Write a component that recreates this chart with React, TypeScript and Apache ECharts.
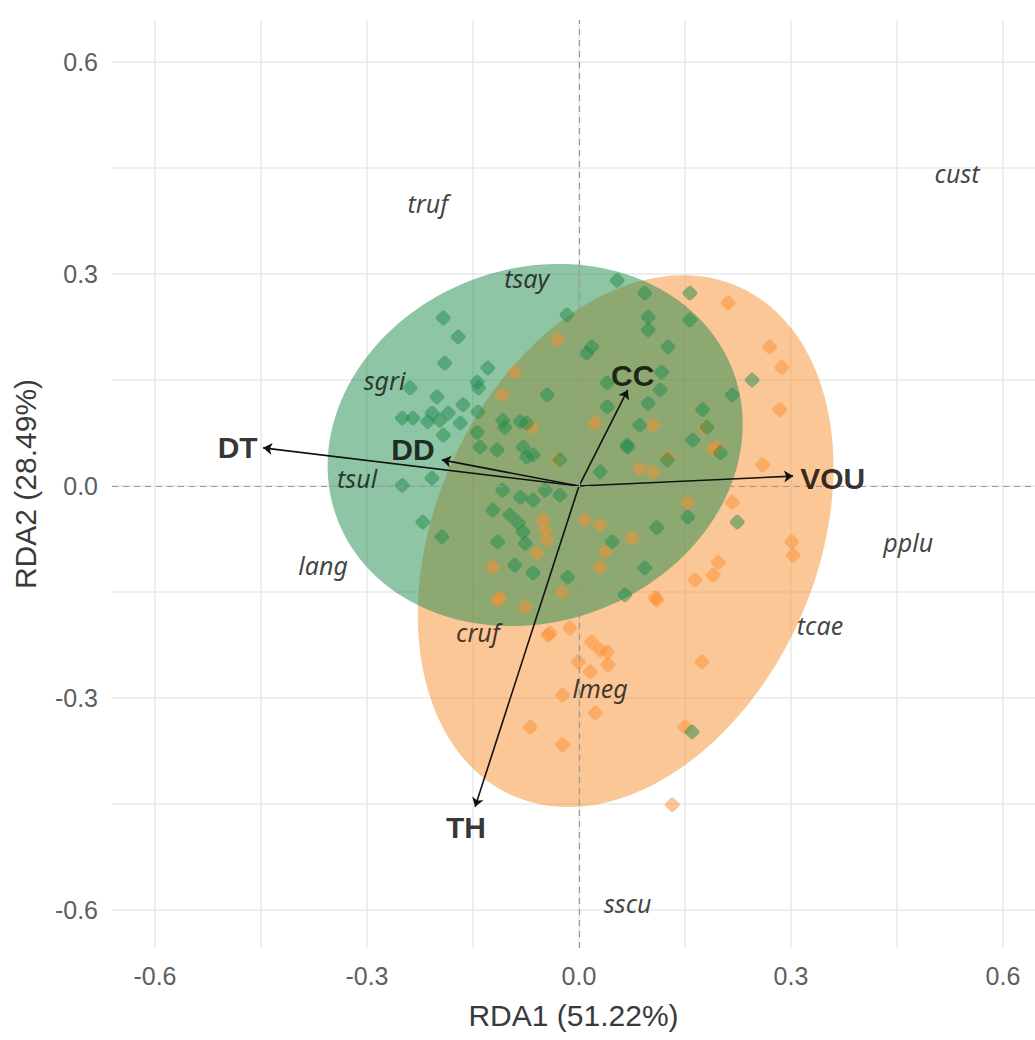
import React, { useEffect, useRef } from "react";
import * as echarts from "echarts";

// ---------- data ----------
const xTicks = [-0.6, -0.45, -0.3, -0.15, 0, 0.15, 0.3, 0.45, 0.6];
const yTicks = [-0.6, -0.45, -0.3, -0.15, 0, 0.15, 0.3, 0.45, 0.6];
const xLabels = [-0.6, -0.3, 0, 0.3, 0.6];
const yLabels = [-0.6, -0.3, 0, 0.3, 0.6];

// ellipses: [centerX, centerY, semiMajor, semiMinor, angleDeg]
const orangeEllipse = [0.066, -0.078, 0.394, 0.27, 66];
const greenEllipse = [-0.062, 0.058, 0.299, 0.25, 20];

const greenSites = [
  [-0.192, 0.238], [-0.171, 0.211], [-0.19, 0.174], [-0.129, 0.167], [-0.144, 0.147],
  [-0.142, 0.139], [-0.239, 0.139], [-0.201, 0.126], [-0.164, 0.115], [-0.208, 0.103],
  [-0.185, 0.103], [-0.25, 0.096], [-0.235, 0.096], [-0.214, 0.091], [-0.197, 0.093],
  [-0.168, 0.089], [-0.192, 0.072], [-0.143, 0.105], [-0.017, 0.242], [-0.045, 0.129],
  [-0.105, 0.083], [-0.074, 0.089], [-0.144, 0.076], [0.011, 0.188], [0.054, 0.291],
  [0.093, 0.273], [0.098, 0.239], [0.098, 0.221], [0.126, 0.197], [0.018, 0.197],
  [0.117, 0.161], [0.04, 0.146], [0.245, 0.15], [0.115, 0.136], [0.217, 0.129],
  [0.04, 0.112], [0.098, 0.117], [0.175, 0.108], [0.086, 0.086], [0.181, 0.083],
  [0.068, 0.058], [0.161, 0.065], [-0.25, 0.001], [-0.208, 0.011], [-0.14, 0.055],
  [-0.079, 0.055], [-0.074, 0.041], [-0.108, -0.006], [-0.083, -0.016], [-0.065, -0.02],
  [-0.048, -0.006], [-0.027, -0.013], [-0.122, -0.034], [-0.098, -0.041], [-0.086, -0.052],
  [-0.079, -0.065], [-0.221, -0.051], [-0.194, -0.072], [-0.115, -0.079], [-0.076, -0.081],
  [-0.091, -0.112], [-0.065, -0.123], [-0.016, -0.129], [0.069, 0.055], [0.03, 0.02],
  [0.154, -0.044], [0.11, -0.059], [0.047, -0.079], [0.093, -0.116], [0.065, -0.154],
  [0.16, -0.348], [0.224, -0.051], [0.157, 0.273], [0.157, 0.235], [0.125, 0.037],
  [-0.027, 0.037], [-0.108, 0.093], [-0.083, 0.091], [-0.065, 0.044], [0.2, 0.047],
  [-0.116, 0.051],
];

const orangeSites = [
  [-0.03, 0.207], [-0.091, 0.161], [-0.108, 0.129], [-0.067, 0.083], [0.211, 0.259],
  [0.27, 0.197], [0.287, 0.168], [0.284, 0.108], [0.023, 0.089], [0.105, 0.086],
  [0.195, 0.055], [-0.03, 0.037], [-0.051, -0.048], [-0.048, -0.062], [-0.045, -0.076],
  [-0.059, -0.095], [-0.122, -0.115], [-0.024, -0.15], [-0.115, -0.161], [-0.076, -0.171],
  [0.008, -0.048], [-0.041, -0.208], [-0.013, -0.201], [0.126, 0.04], [0.086, 0.025],
  [0.105, 0.02], [0.19, 0.051], [0.26, 0.03], [0.154, -0.023], [0.217, -0.023],
  [0.03, -0.055], [0.075, -0.074], [0.037, -0.093], [0.301, -0.079], [0.303, -0.098],
  [0.03, -0.115], [0.197, -0.108], [0.19, -0.126], [0.164, -0.133], [0.108, -0.158],
  [-0.044, -0.211], [0.018, -0.221], [0.03, -0.232], [0.04, -0.235], [-0.001, -0.249],
  [0.016, -0.263], [0.041, -0.253], [0.174, -0.249], [-0.023, -0.296], [0.023, -0.321],
  [-0.069, -0.341], [0.15, -0.341], [-0.023, -0.366], [0.132, -0.451], [0.11, -0.161],
  [-0.112, -0.158], [0.178, 0.082],
];

const envNames = ["DT", "DD", "CC", "VOU", "TH"];
const envArrowEnds = [
  [-0.447, 0.054], [-0.194, 0.037], [0.069, 0.136], [0.303, 0.014], [-0.147, -0.454],
];
const envLabelPos = [
  [-0.483, 0.055], [-0.235, 0.052], [0.076, 0.157], [0.359, 0.011], [-0.16, -0.483],
];

const speciesNames = ["truf", "tsay", "sgri", "tsul", "lang", "cruf", "lmeg", "tcae", "pplu", "sscu", "cust"];
const speciesPos = [
  [-0.214, 0.4], [-0.074, 0.294], [-0.275, 0.15], [-0.314, 0.011], [-0.362, -0.112],
  [-0.143, -0.207], [0.03, -0.286], [0.341, -0.197], [0.466, -0.079], [0.069, -0.59],
  [0.535, 0.443],
];

const GREEN = "rgb(30,140,75)";
const ORANGE = "rgb(250,143,48)";

function ellipseRender(fill: string, opacity: number) {
  return (params: any, api: any) => {
    const cx = api.value(0);
    const cy = api.value(1);
    const a = api.value(2);
    const b = api.value(3);
    const ang = (api.value(4) * Math.PI) / 180;
    const pts: number[][] = [];
    const n = 160;
    for (let i = 0; i < n; i++) {
      const t = (i / n) * Math.PI * 2;
      const ex = a * Math.cos(t);
      const ey = b * Math.sin(t);
      pts.push(
        api.coord([
          cx + ex * Math.cos(ang) - ey * Math.sin(ang),
          cy + ex * Math.sin(ang) + ey * Math.cos(ang),
        ])
      );
    }
    return {
      type: "polygon",
      shape: { points: pts },
      style: { fill, opacity },
    };
  };
}

export default function App() {
  const ref = useRef<HTMLDivElement>(null);
  useEffect(() => {
    if (!ref.current) return;
    const chart = echarts.init(ref.current, undefined, { renderer: "svg" });
    const xMin = -0.6608;
    const xMax = 0.6453;
    const yMax = 0.6594;
    const yMin = -0.6537;
    const fmt = (v: number) => (Math.abs(v) < 1e-9 ? "0.0" : v.toFixed(1));
    const option: any = {
      animation: false,
      backgroundColor: "#ffffff",
      grid: { left: 112, top: 20, width: 923, height: 928, containLabel: false },
      xAxis: {
        type: "value",
        min: xMin,
        max: xMax,
        name: "RDA1 (51.22%)",
        nameLocation: "middle",
        nameGap: 52,
        nameTextStyle: { fontFamily: "Liberation Sans, Arial", fontSize: 30, color: "#3a3a3a" },
        axisLine: { show: false },
        axisTick: { show: false, customValues: xTicks },
        axisLabel: {
          customValues: xLabels,
          formatter: fmt,
          fontFamily: "Liberation Sans, Arial",
          fontSize: 25,
          color: "#5e5e5e",
          margin: 15,
        },
        splitLine: { show: true, lineStyle: { color: "#e8e8e8", width: 1.5 } },
      },
      yAxis: {
        type: "value",
        min: yMin,
        max: yMax,
        name: "RDA2 (28.49%)",
        nameLocation: "middle",
        nameGap: 72,
        nameRotate: 90,
        nameTextStyle: { fontFamily: "Liberation Sans, Arial", fontSize: 30, color: "#3a3a3a" },
        axisLine: { show: false },
        axisTick: { show: false, customValues: yTicks },
        axisLabel: {
          customValues: yLabels,
          formatter: fmt,
          fontFamily: "Liberation Sans, Arial",
          fontSize: 25,
          color: "#5e5e5e",
          margin: 14,
        },
        splitLine: { show: true, lineStyle: { color: "#e8e8e8", width: 1.5 } },
      },
      series: [
        {
          type: "custom",
          name: "orangeEllipse",
          renderItem: ellipseRender(ORANGE, 0.5),
          data: [orangeEllipse],
          z: 1,
          silent: true,
          markLine: {
            silent: true,
            symbol: "none",
            label: { show: false },
            lineStyle: { color: "#9a9a9a", type: [6, 5], width: 1.2 },
            data: [{ xAxis: 0 }, { yAxis: 0 }],
          },
        },
        {
          type: "custom",
          name: "greenEllipse",
          renderItem: ellipseRender(GREEN, 0.5),
          data: [greenEllipse],
          z: 2,
          silent: true,
        },
        {
          type: "scatter",
          name: "orange",
          data: orangeSites,
          symbol: "roundRect",
          symbolRotate: 45,
          symbolSize: 12,
          itemStyle: { color: ORANGE, opacity: 0.5 },
          z: 3,
        },
        {
          type: "scatter",
          name: "green",
          data: greenSites,
          symbol: "roundRect",
          symbolRotate: 45,
          symbolSize: 12,
          itemStyle: { color: GREEN, opacity: 0.5 },
          z: 3,
        },
        {
          type: "lines",
          coordinateSystem: "cartesian2d",
          polyline: false,
          symbol: ["none", "arrow"],
          symbolSize: 9,
          lineStyle: { color: "#111111", width: 1.6, opacity: 1 },
          data: envArrowEnds.map((e) => ({ coords: [[0, 0], e] })),
          z: 4,
        },
        {
          type: "scatter",
          name: "env",
          symbolSize: 0,
          data: envNames.map((n, i) => ({ name: n, value: envLabelPos[i] })),
          label: {
            show: true,
            position: "inside",
            formatter: (p: any) => p.name,
            fontFamily: "Liberation Sans, Arial",
            fontWeight: "bold",
            fontSize: 30,
            color: "#000000",
          },
          z: 5,
        },
        {
          type: "scatter",
          name: "species",
          symbolSize: 0,
          data: speciesNames.map((n, i) => ({ name: n, value: speciesPos[i] })),
          label: {
            show: true,
            position: "inside",
            formatter: (p: any) => p.name,
            fontFamily: "Noto Sans, Open Sans",
            fontStyle: "italic",
            fontSize: 25,
            color: "#111111",
          },
          z: 5,
        },
      ],
    };
    chart.setOption(option);
    return () => chart.dispose();
  }, []);
  return (
    <div
      ref={ref}
      style={{ position: "absolute", left: 0, top: 0, width: 1035, height: 1040 }}
    />
  );
}
